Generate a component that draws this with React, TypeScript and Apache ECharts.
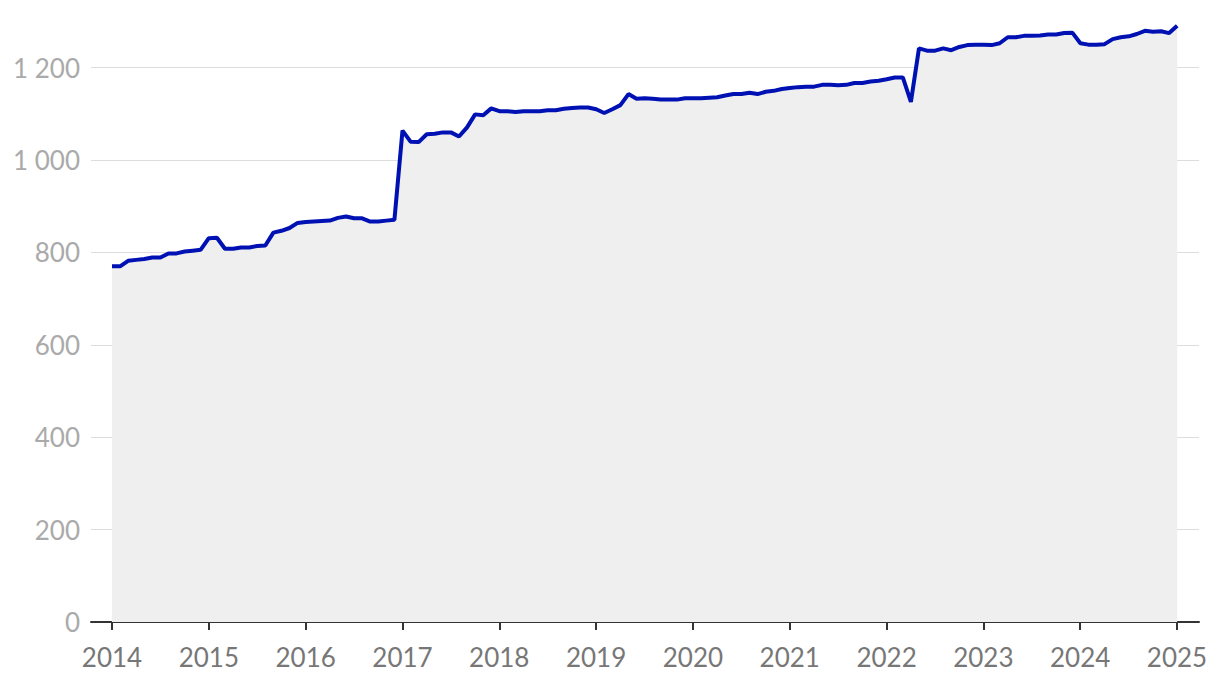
import React, { useEffect, useRef } from "react";
import * as echarts from "echarts";

const startYear = 2014;
const yearTicks = [2014, 2015, 2016, 2017, 2018, 2019, 2020, 2021, 2022, 2023, 2024, 2025];

// Monthly values, Jan 2014 .. Jan 2025
const values2014 = [770, 770, 782, 784, 786, 789, 789, 798, 798, 802, 804, 806];
const values2015 = [831, 832, 808, 808, 811, 811, 814, 815, 843, 847, 853, 864];
const values2016 = [866, 867, 868, 869, 875, 878, 874, 874, 867, 867, 869, 871];
const values2017 = [1064, 1040, 1039, 1056, 1057, 1060, 1060, 1051, 1071, 1099, 1097, 1112];
const values2018 = [1106, 1106, 1104, 1106, 1106, 1106, 1108, 1108, 1111, 1113, 1114, 1114];
const values2019 = [1110, 1102, 1110, 1119, 1143, 1133, 1134, 1133, 1131, 1131, 1131, 1134];
const values2020 = [1134, 1134, 1135, 1136, 1140, 1143, 1143, 1146, 1143, 1148, 1150, 1154];
const values2021 = [1156, 1158, 1159, 1159, 1163, 1163, 1162, 1163, 1167, 1167, 1170, 1172];
const values2022 = [1175, 1179, 1179, 1126, 1242, 1237, 1237, 1242, 1238, 1245, 1249, 1250];
const values2023 = [1250, 1249, 1253, 1266, 1266, 1269, 1269, 1270, 1272, 1272, 1275, 1276];
const values2024 = [1253, 1250, 1250, 1251, 1262, 1266, 1268, 1273, 1280, 1278, 1279, 1275];
const values2025 = [1291];

const allValues = [
  ...values2014, ...values2015, ...values2016, ...values2017, ...values2018, ...values2019,
  ...values2020, ...values2021, ...values2022, ...values2023, ...values2024, ...values2025,
];

export default function App() {
  const ref = useRef<HTMLDivElement>(null);
  useEffect(() => {
    if (!ref.current) return;
    const chart = echarts.init(ref.current, null, { renderer: "svg" });
    const data = allValues.map((v, i) => [i, v]);
    const lastMonth = (yearTicks[yearTicks.length - 1] - startYear) * 12;
    chart.setOption({
      animation: false,
      backgroundColor: "#ffffff",
      grid: [
        { left: 91, right: 21, top: 10, bottom: 66, containLabel: false },
        { left: 112, right: 43, top: 10, bottom: 66, containLabel: false },
      ],
      xAxis: [
        {
          gridIndex: 0,
          type: "value",
          min: -2.6,
          max: 134.7,
          axisLine: { show: true, symbol: "none", lineStyle: { color: "#333333", width: 2 } },
          axisTick: { show: false },
          minorTick: { show: false },
          axisLabel: { show: false },
          splitLine: { show: false },
        },
        {
          gridIndex: 1,
          type: "value",
          position: "bottom",
          min: 0,
          max: lastMonth,
          interval: 12,
          axisLine: { show: false },
          splitLine: { show: false },
          axisTick: {
            show: true,
            length: 8,
            lineStyle: { color: "#333333", width: 2 },
          },
          axisLabel: {
            formatter: (v: number) => String(startYear + Math.round(v / 12)),
            color: "#777777",
            fontFamily: "Lato",
            fontSize: 26,
            margin: 22,
          },
        },
      ],
      yAxis: [
        {
          gridIndex: 0,
          type: "value",
          min: 0,
          max: 1325,
          interval: 200,
          axisLine: { show: false },
          axisTick: { show: false },
          axisLabel: {
            color: "#aaaaaa",
            fontFamily: "Lato",
            fontSize: 26,
            margin: 11,
            showMaxLabel: false,
            formatter: (v: number) => (v >= 1000 ? String(v).replace(/(\d)(\d{3})$/, "$1 $2") : String(v)),
          },
          splitLine: { show: true, showMaxLine: false, lineStyle: { color: "#dddddd", width: 1 } },
        },
        { gridIndex: 1, type: "value", show: false, min: 0, max: 1325 },
      ],
      series: [
        {
          type: "line",
          xAxisIndex: 0,
          yAxisIndex: 0,
          data,
          showSymbol: false,
          symbol: "none",
          lineStyle: { color: "#0011b3", width: 4 },
          areaStyle: { color: "#efefef", opacity: 1 },
          z: 3,
        },
      ],
    });
    return () => chart.dispose();
  }, []);
  return (
    <div
      ref={ref}
      style={{ position: "fixed", left: 0, top: 0, width: 1220, height: 688 }}
    />
  );
}
